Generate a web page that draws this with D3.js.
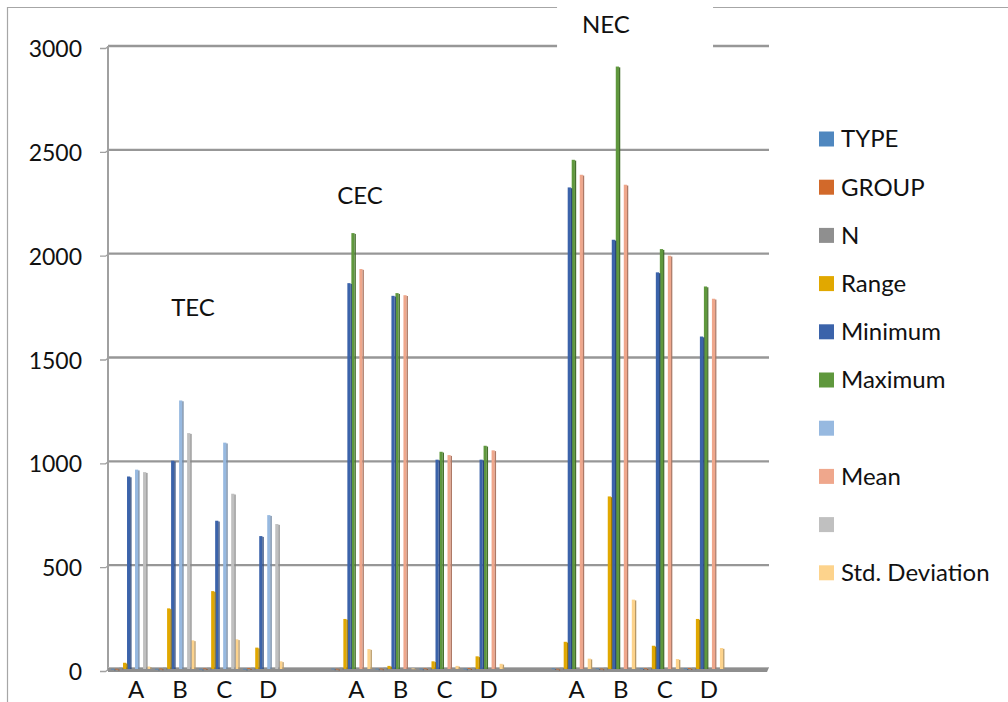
<!DOCTYPE html>
<html><head><meta charset="utf-8">
<script src="https://cdn.jsdelivr.net/npm/d3@7"></script>
<style>body{margin:0;background:#fff}svg{display:block}text{font-family:Lato,"Open Sans",sans-serif;fill:#111}</style>
</head><body><svg id="c" width="1008" height="702"></svg>
<script>
// ---- data ----
const categoryKeys = ["TEC A","TEC B","TEC C","TEC D","gap1","CEC A","CEC B","CEC C","CEC D","gap2","NEC A","NEC B","NEC C","NEC D","gap3"];
const categoryLabels = ["A","B","C","D","","A","B","C","D","","A","B","C","D",""];
const seriesNames = ["TYPE","GROUP","N","Range","Minimum","Maximum","","Mean","","Std. Deviation"];
const seriesColors = ["#4f87bf","#d2692a","#8f8f8f","#e1a800","#3b63aa","#5f983d","#97b9e0","#efa78c","#c0c0c0","#fdd38c"];
// values per real category (TEC A-D, CEC A-D, NEC A-D)
const typeVals   = [1,1,1,1, 2,2,2,2, 3,3,3,3];
const groupVals  = [1,2,3,4, 1,2,3,4, 1,2,3,4];
const nVals      = [6,6,6,6, 6,6,6,6, 6,6,6,6];
const rangeVals  = [30,292,375,103, 241,15,37,61, 131,831,112,241];
const minVals    = [927,1003,714,640, 1858,1797,1008,1008, 2319,2067,1910,1601];
const maxVals    = [0,0,0,0, 2099,1810,1046,1075, 2452,2901,2022,1842];
const blank1Vals = [960,1293,1090,741, 0,0,0,0, 0,0,0,0];
const meanVals   = [0,0,0,0, 1926,1800,1030,1053, 2380,2332,1990,1783];
const blank2Vals = [948,1136,844,698, 0,0,0,0, 0,0,0,0];
const stdVals    = [12,138,143,37, 96,3,15,25, 50,334,48,101];
const yTicks = [0,500,1000,1500,2000,2500,3000];
const groupNames = ["TEC","CEC","NEC"];
const groupLabelIdx = [1.93, 5.72, 11.3];     // position along the category axis
const groupLabelVal = [1740, 2280, 3105];

const seriesValues = [typeVals,groupVals,nVals,rangeVals,minVals,maxVals,blank1Vals,meanVals,blank2Vals,stdVals];
const realKeys = categoryKeys.filter(k=>!k.startsWith("gap"));

// ---- scales ----
const svg = d3.select("#c");
const pL = 108, pR = 769, pT = 46, pB = 669;
const x = d3.scaleBand().domain(categoryKeys).range([pL,pR]).padding(0);
const xi = d3.scaleLinear().domain([0,categoryKeys.length]).range([pL,pR]);
const inner = d3.scaleBand().domain(d3.range(seriesNames.length)).range([3, x.bandwidth()-1]).padding(0);
const y = d3.scaleLinear().domain([0,3000]).range([pB, pT]);

// frame
svg.append("path").attr("d","M7.5,702 V7.5 H1008").attr("fill","none").attr("stroke","#a6a6a6").attr("stroke-width",1.2);

// gridlines
svg.append("g").selectAll("line").data(yTicks.filter(d=>d>0)).join("line")
  .attr("x1",pL).attr("x2",pR).attr("y1",d=>y(d)).attr("y2",d=>y(d))
  .attr("stroke","#979797").attr("stroke-width",2.4);
// ticks (3D wall edge)
svg.append("g").selectAll("path").data(yTicks).join("path")
  .attr("d",d=>`M100,${y(d)+2.5} H105.5 L${pL+1},${y(d)}`)
  .attr("fill","none").attr("stroke","#a0a0a0").attr("stroke-width",1.3);
// wall axis line
svg.append("line").attr("x1",pL).attr("x2",pL).attr("y1",y(3000)).attr("y2",y(0)+2)
  .attr("stroke","#a0a0a0").attr("stroke-width",2);
// y labels
svg.append("g").selectAll("text").data(yTicks).join("text")
  .attr("x",82).attr("y",d=>y(d)+3).attr("dy","0.35em").attr("text-anchor","end")
  .attr("font-size",23).text(d=>d);

// floor
svg.append("path").attr("d",`M${pL},${pB-1.5} H${pR} L${pR-2},${pB+3} H${pL} Z`).attr("fill","#8e8e8e");
svg.append("line").attr("x1",pL).attr("x2",pR).attr("y1",pB-1.5).attr("y2",pB-1.5).attr("stroke","#b5b5b5").attr("stroke-width",1);

// bars
const bars = [];
seriesValues.forEach((vals,j)=>vals.forEach((v,i)=>bars.push({j,key:realKeys[i],v})));
const bw = inner.bandwidth();
const fw = bw*0.8;
const gBars = svg.append("g");
gBars.append("g").selectAll("rect").data(bars.filter(d=>d.v>0)).join("rect")
  .attr("x",d=>x(d.key)+inner(d.j)).attr("width",fw)
  .attr("y",d=>y(d.v)).attr("height",d=>Math.max(0.8,y(0)-y(d.v)))
  .attr("fill",d=>seriesColors[d.j]);
gBars.append("g").selectAll("rect").data(bars.filter(d=>d.v>0)).join("rect")
  .attr("x",d=>x(d.key)+inner(d.j)+fw).attr("width",bw*0.32)
  .attr("y",d=>y(d.v)+0.8).attr("height",d=>Math.max(0.8,y(0)-y(d.v)-0.8))
  .attr("fill",d=>d3.color(seriesColors[d.j]).darker(0.9));

// category labels
svg.append("g").selectAll("text").data(categoryKeys.filter((k,i)=>categoryLabels[i])).join("text")
  .attr("x",k=>x(k)+x.bandwidth()/2+6).attr("y",690).attr("dy","0.35em").attr("text-anchor","middle")
  .attr("font-size",24).text(k=>categoryLabels[categoryKeys.indexOf(k)]);

// NEC white box + group labels
svg.append("rect").attr("x",xi(10.19)).attr("y",0).attr("width",xi(13.73)-xi(10.19)).attr("height",53).attr("fill","#fff");
svg.append("g").selectAll("text").data(groupNames).join("text")
  .attr("x",(d,i)=>xi(groupLabelIdx[i])).attr("y",(d,i)=>y(groupLabelVal[i])).attr("dy","0.35em")
  .attr("text-anchor","middle").attr("font-size",24).text(d=>d);

// legend
const lg = svg.append("g").selectAll("g").data(seriesNames).join("g")
  .attr("transform",(d,i)=>`translate(819,${139+i*48.2})`);
lg.append("rect").attr("x",0).attr("y",-7.5).attr("width",15).attr("height",15).attr("fill",(d,i)=>seriesColors[i]);
lg.append("text").attr("x",22).attr("y",0).attr("dy","0.35em").attr("font-size",24).text(d=>d);
</script></body></html>
